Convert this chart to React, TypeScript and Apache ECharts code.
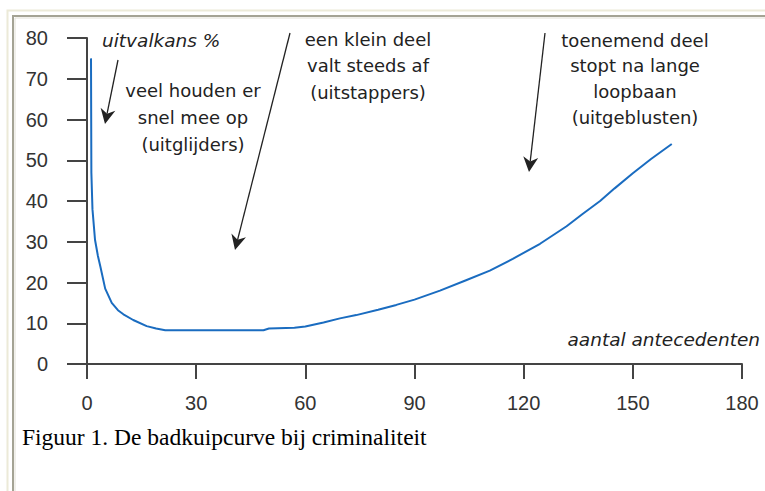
import React, { useEffect, useRef } from "react";
import * as echarts from "echarts";

// curve: [aantal antecedenten, uitvalkans %]
const curveX = [1.1, 1.2, 1.5, 2.2, 3.0, 3.7, 5, 6.8, 8.5, 10, 12.7, 16.4, 19, 21.5, 48.5, 50, 57, 60, 65, 69.5, 74, 80, 85, 90, 97, 104, 110.7, 117, 124.5, 131.8, 136, 141, 145, 150, 155, 160.7];
const curveY = [75, 47, 38, 30.5, 26.5, 23.8, 18.5, 15, 13.2, 12.2, 10.8, 9.3, 8.7, 8.3, 8.3, 8.7, 8.9, 9.2, 10.2, 11.2, 12, 13.3, 14.5, 15.8, 18, 20.5, 22.9, 25.8, 29.5, 33.8, 36.7, 40, 43.1, 46.8, 50.3, 54];

const xTicks = [0, 30, 60, 90, 120, 150, 180];
const yTicks = [0, 10, 20, 30, 40, 50, 60, 70, 80];

const yAxisTitle = "uitvalkans %";
const xAxisTitle = "aantal antecedenten";
const caption = "Figuur 1. De badkuipcurve bij criminaliteit";
const note1 = ["veel houden er", "snel mee op", "(uitglijders)"];
const note2 = ["een klein deel", "valt steeds af", "(uitstappers)"];
const note3 = ["toenemend deel", "stopt na lange", "loopbaan", "(uitgeblusten)"];

const ANN_FONT = '18px "DejaVu Sans"';
const ANN_ITALIC = 'italic 18.5px "DejaVu Sans"';
const ANN_COLOR = "#222";

function arrow(x1: number, y1: number, x2: number, y2: number) {
  const dx = x2 - x1;
  const dy = y2 - y1;
  const len = Math.sqrt(dx * dx + dy * dy);
  const ux = dx / len;
  const uy = dy / len;
  const px = -uy;
  const py = ux;
  const hl = 15;
  const hw = 7.5;
  const bx = x2 - ux * hl;
  const by = y2 - uy * hl;
  const nx = x2 - ux * hl * 0.7;
  const ny = y2 - uy * hl * 0.7;
  return [
    {
      type: "line",
      shape: { x1, y1, x2: nx, y2: ny },
      style: { stroke: "#222", lineWidth: 1.3 },
      silent: true,
    },
    {
      type: "polygon",
      shape: {
        points: [
          [x2, y2],
          [bx + px * hw, by + py * hw],
          [nx, ny],
          [bx - px * hw, by - py * hw],
        ],
      },
      style: { fill: "#222" },
      silent: true,
    },
  ];
}

function lines(arr: string[], cx: number, y0: number, step: number) {
  return arr.map((t, i) => ({
    type: "text",
    x: cx,
    y: y0 + i * step,
    style: {
      text: t,
      fill: ANN_COLOR,
      font: ANN_FONT,
      textAlign: "center",
      textVerticalAlign: "middle",
    },
    silent: true,
  }));
}

export default function App() {
  const ref = useRef<HTMLDivElement>(null);
  useEffect(() => {
    if (!ref.current) return;
    const chart = echarts.init(ref.current, undefined, { renderer: "svg" });
    const data = curveX.map((x, i) => [x, curveY[i]]);
    const axisColor = "#444";
    const option: any = {
      animation: false,
      backgroundColor: "#ffffff",
      grid: { left: 87, right: 23, top: 38, bottom: 127 },
      xAxis: {
        type: "value",
        min: xTicks[0],
        max: xTicks[xTicks.length - 1],
        interval: 30,
        axisLine: { onZero: false, lineStyle: { color: axisColor, width: 2 } },
        axisTick: { show: true, length: 15, lineStyle: { color: axisColor, width: 2 } },
        axisLabel: { margin: 29, fontSize: 20, color: "#333", fontFamily: "Liberation Sans" },
        splitLine: { show: false },
      },
      yAxis: {
        type: "value",
        min: yTicks[0],
        max: yTicks[yTicks.length - 1],
        interval: 10,
        axisLine: { show: true, onZero: false, lineStyle: { color: axisColor, width: 2 } },
        axisTick: { show: true, length: 20, lineStyle: { color: axisColor, width: 2 } },
        axisLabel: { margin: 39, fontSize: 20, color: "#333", fontFamily: "Liberation Sans" },
        splitLine: { show: false },
      },
      series: [
        {
          type: "line",
          data,
          showSymbol: false,
          clip: false,
          lineStyle: { color: "#1a6cc0", width: 2 },
        },
      ],
      graphic: [
        // frame
        {
          type: "polyline",
          shape: { points: [[7.5, 491], [7.5, 10.5], [765, 10.5]] },
          style: { stroke: "#ecead8", lineWidth: 2, fill: null },
          silent: true,
        },
        {
          type: "polyline",
          shape: { points: [[13, 491], [13, 16], [765, 16]] },
          style: { stroke: "#a4a394", lineWidth: 2, fill: null },
          silent: true,
        },
        {
          type: "polyline",
          shape: { points: [[15, 491], [15, 18], [765, 18]] },
          style: { stroke: "#e2e0d6", lineWidth: 1, fill: null },
          silent: true,
        },
        {
          type: "text",
          x: 102,
          y: 40,
          style: {
            text: yAxisTitle,
            fill: ANN_COLOR,
            font: ANN_ITALIC,
            textAlign: "left",
            textVerticalAlign: "middle",
          },
          silent: true,
        },
        {
          type: "text",
          x: 760,
          y: 339,
          style: {
            text: xAxisTitle,
            fill: ANN_COLOR,
            font: ANN_ITALIC,
            textAlign: "right",
            textVerticalAlign: "middle",
          },
          silent: true,
        },
        ...lines(note1, 193, 90, 27),
        ...lines(note2, 368, 39, 26.5),
        ...lines(note3, 635, 40, 25.7),
        ...arrow(118, 60, 105, 124),
        ...arrow(290, 33, 235, 250),
        ...arrow(545, 33, 529, 172),
        {
          type: "text",
          x: 22,
          y: 437,
          style: {
            text: caption,
            fill: "#000",
            font: '23.5px "Liberation Serif"',
            textAlign: "left",
            textVerticalAlign: "middle",
          },
          silent: true,
        },
      ],
    };
    chart.setOption(option);
    return () => chart.dispose();
  }, []);
  return (
    <div
      ref={ref}
      style={{ position: "fixed", left: 0, top: 0, width: 765, height: 491, background: "#fff" }}
    />
  );
}
